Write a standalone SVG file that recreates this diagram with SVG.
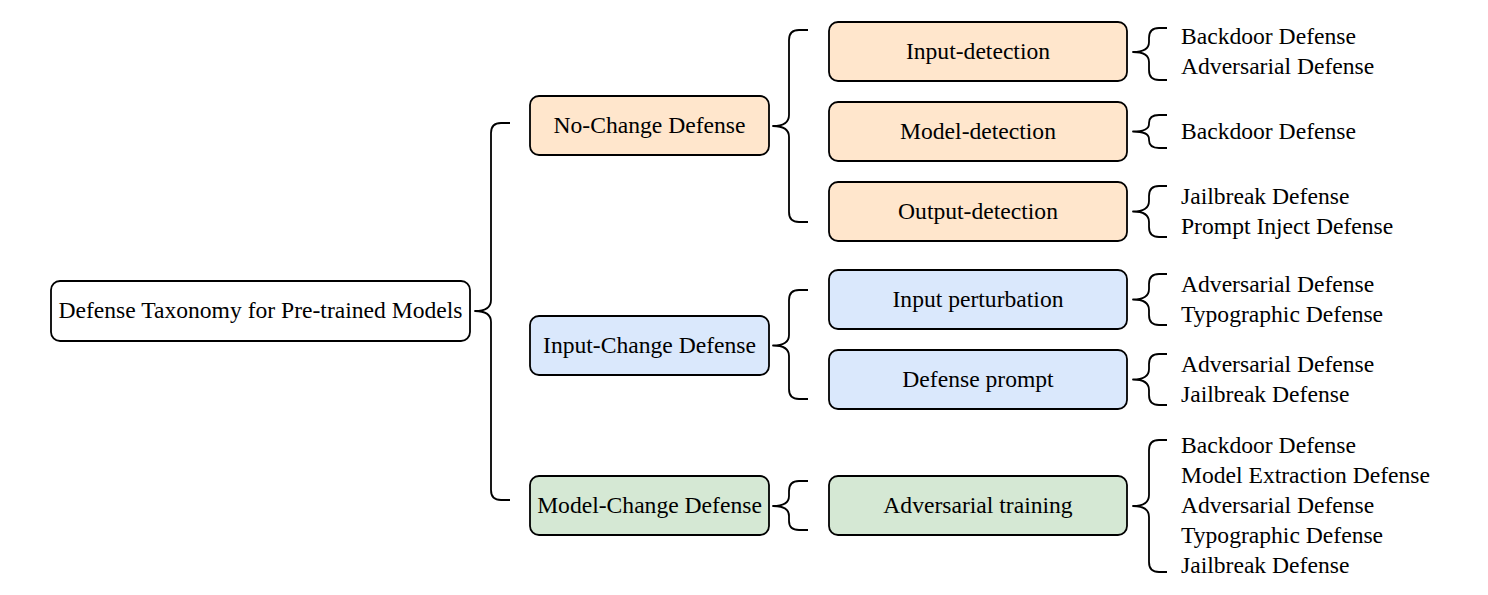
<svg xmlns="http://www.w3.org/2000/svg" width="1488" height="595" viewBox="0 0 1488 595">
<style>
.box{stroke:#000;stroke-width:1.8}
.root{fill:#fff}
.o{fill:#FFE6CC}
.b{fill:#DAE8FC}
.g{fill:#D5E8D4}
.t{font-family:"Liberation Serif","Times New Roman",serif;font-size:23.6px;fill:#000}
.c{text-anchor:middle}
.br{fill:none;stroke:#000;stroke-width:1.8;stroke-linejoin:round}
</style>
<rect width="1488" height="595" fill="#fff"/>
<g id="connectors">
<path class="br" d="M510,123 H501 Q491,123 491,133 V300 Q491,311 475,311 Q491,311 491,322 V490 Q491,500 501,500 H510"/>
<path class="br" d="M808,30 H799 Q789,30 789,40 V115 Q789,126 773,126 Q789,126 789,137 V212 Q789,222 799,222 H808"/>
<path class="br" d="M808,290 H799 Q789,290 789,300 V335 Q789,345.5 773,345.5 Q789,345.5 789,356 V389 Q789,399 799,399 H808"/>
<path class="br" d="M808,481 H799 Q789,481 789,491 V496 Q789,506 773,506 Q789,506 789,516 V521 Q789,530 799,530 H808"/>
<path class="br" d="M1167,28 H1159 Q1149,28 1149,38 V42 Q1149,52 1133,52 Q1149,52 1149,62 V70 Q1149,80 1159,80 H1167"/>
<path class="br" d="M1167,115 H1159 Q1149,115 1149,123 V124 Q1149,131.5 1133,131.5 Q1149,131.5 1149,139 V140 Q1149,148 1159,148 H1167"/>
<path class="br" d="M1167,186 H1159 Q1149,186 1149,196 V201 Q1149,211.5 1133,211.5 Q1149,211.5 1149,222 V227 Q1149,237 1159,237 H1167"/>
<path class="br" d="M1167,274 H1159 Q1149,274 1149,284 V289 Q1149,299.5 1133,299.5 Q1149,299.5 1149,310 V315 Q1149,325 1159,325 H1167"/>
<path class="br" d="M1167,354 H1159 Q1149,354 1149,364 V369 Q1149,379.5 1133,379.5 Q1149,379.5 1149,390 V395 Q1149,405 1159,405 H1167"/>
<path class="br" d="M1167,440 H1159 Q1149,440 1149,450 V495 Q1149,506 1133,506 Q1149,506 1149,517 V562 Q1149,572 1159,572 H1167"/>
</g>
<g id="root">
<rect class="box root" x="51" y="281" width="419" height="60" rx="9"/>
<text class="t c" x="260.5" y="318">Defense Taxonomy for Pre-trained Models</text>
</g>
<g id="no-change">
<rect class="box o" x="530" y="96" width="239" height="59" rx="9"/>
<text class="t c" x="649.5" y="132.5">No-Change Defense</text>
</g>
<g id="input-change">
<rect class="box b" x="530" y="316" width="239" height="59" rx="9"/>
<text class="t c" x="649.5" y="352.5">Input-Change Defense</text>
</g>
<g id="model-change">
<rect class="box g" x="530" y="476" width="239" height="59" rx="9"/>
<text class="t c" x="649.5" y="512.5">Model-Change Defense</text>
</g>
<g id="input-detection">
<rect class="box o" x="829" y="22" width="298" height="59" rx="9"/>
<text class="t c" x="978" y="58.5">Input-detection</text>
<text class="t" x="1181" y="44">Backdoor Defense</text>
<text class="t" x="1181" y="74">Adversarial Defense</text>
</g>
<g id="model-detection">
<rect class="box o" x="829" y="102" width="298" height="59" rx="9"/>
<text class="t c" x="978" y="138.5">Model-detection</text>
<text class="t" x="1181" y="138.5">Backdoor Defense</text>
</g>
<g id="output-detection">
<rect class="box o" x="829" y="182" width="298" height="59" rx="9"/>
<text class="t c" x="978" y="218.5">Output-detection</text>
<text class="t" x="1181" y="204">Jailbreak Defense</text>
<text class="t" x="1181" y="234">Prompt Inject Defense</text>
</g>
<g id="input-perturbation">
<rect class="box b" x="829" y="270" width="298" height="59" rx="9"/>
<text class="t c" x="978" y="306.5">Input perturbation</text>
<text class="t" x="1181" y="291.5">Adversarial Defense</text>
<text class="t" x="1181" y="321.5">Typographic Defense</text>
</g>
<g id="defense-prompt">
<rect class="box b" x="829" y="350" width="298" height="59" rx="9"/>
<text class="t c" x="978" y="386.5">Defense prompt</text>
<text class="t" x="1181" y="371.5">Adversarial Defense</text>
<text class="t" x="1181" y="401.5">Jailbreak Defense</text>
</g>
<g id="adversarial-training">
<rect class="box g" x="829" y="476" width="298" height="59" rx="9"/>
<text class="t c" x="978" y="512.5">Adversarial training</text>
<text class="t" x="1181" y="452.5">Backdoor Defense</text>
<text class="t" x="1181" y="482.5">Model Extraction Defense</text>
<text class="t" x="1181" y="512.5">Adversarial Defense</text>
<text class="t" x="1181" y="542.5">Typographic Defense</text>
<text class="t" x="1181" y="572.5">Jailbreak Defense</text>
</g>
</svg>
